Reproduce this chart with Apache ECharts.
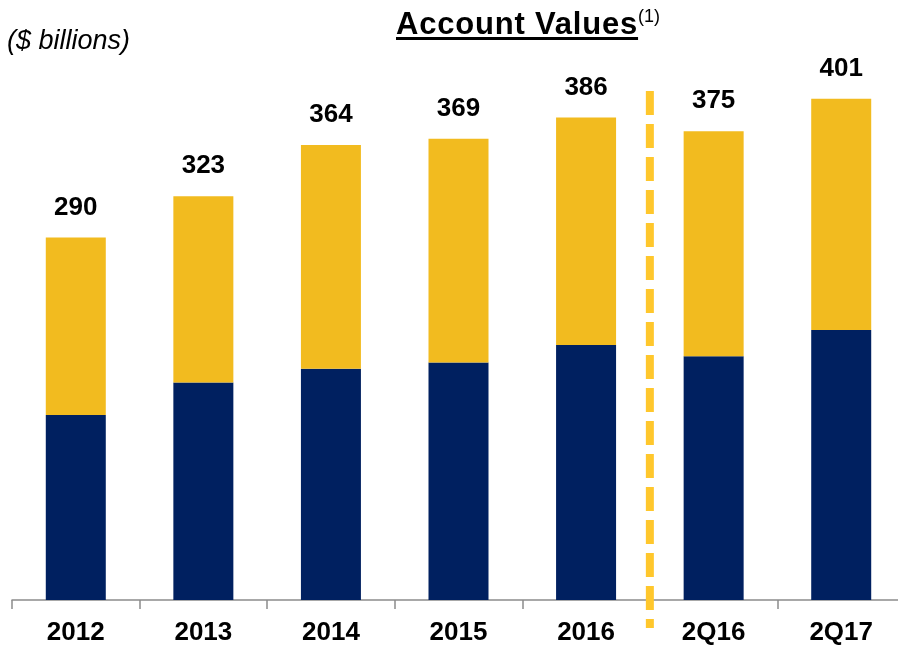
<!DOCTYPE html>
<html>
<head>
<meta charset="utf-8">
<script src="https://cdn.jsdelivr.net/npm/echarts@6/dist/echarts.min.js"></script>
<style>
  html, body { margin: 0; padding: 0; background: #fff; }
  #box { width: 898px; height: 647px; position: relative; }
  .ttl {
    position: absolute; left: 396px; top: 6px; z-index: 2;
    font-family: "Liberation Sans", Arial, sans-serif;
    font-weight: bold; font-size: 31px; letter-spacing: 0.8px; color: #000;
    text-decoration: underline; text-decoration-thickness: 3px; text-underline-offset: 3px;
  }
  .ttl sup { font-weight: normal; font-size: 18px; letter-spacing: 0; display: inline-block; vertical-align: 12px; margin-left: 0; }
</style>
</head>
<body>
<div id="box">
  <div class="ttl">Account Values<sup>(1)</sup></div>
  <div id="chart" style="width:898px;height:647px;"></div>
</div>
<script>
// data
var categories = ["2012", "2013", "2014", "2015", "2016", "2Q16", "2Q17"];
var navyValues = [148, 174, 185, 190, 204, 195, 216];
var yellowValues = [142, 149, 179, 179, 182, 180, 185];
var totals = [290, 323, 364, 369, 386, 375, 401];

var myChart = echarts.init(document.getElementById("chart"));
var font = '"Liberation Sans", Arial, sans-serif';

var option = {
  animation: false,
  title: {
    text: "($ billions)",
    left: 2,
    top: 23,
    textStyle: { fontFamily: font, fontStyle: "italic", fontWeight: "normal", fontSize: 27, color: "#000" }
  },
  grid: { left: 12, right: -7, top: 50, bottom: 47, outerBoundsMode: "none", containLabel: false },
  xAxis: {
    type: "category",
    data: categories,
    axisLine: { lineStyle: { color: "#8c8c8c", width: 1.5 } },
    axisTick: { show: true, length: 9, lineStyle: { color: "#8c8c8c", width: 1.5 } },
    axisLabel: { margin: 20, fontFamily: font, fontWeight: "bold", fontSize: 26, color: "#000" }
  },
  yAxis: {
    type: "value",
    min: 0,
    max: 440,
    show: false,
    splitLine: { show: false }
  },
  series: [
    {
      name: "navy",
      type: "bar",
      stack: "av",
      barWidth: 60,
      itemStyle: { color: "#002060" },
      data: navyValues
    },
    {
      name: "yellow",
      type: "bar",
      stack: "av",
      barWidth: 60,
      itemStyle: { color: "#F2BB1F" },
      label: {
        show: true,
        position: "top",
        distance: 17,
        fontFamily: font,
        fontWeight: "bold",
        fontSize: 26,
        color: "#000",
        formatter: function (p) { return totals[p.dataIndex]; }
      },
      data: yellowValues
    }
  ]
};
myChart.setOption(option);

// dashed divider between 2016 and 2Q16
var x1 = myChart.convertToPixel({ xAxisIndex: 0 }, 4);
var x2 = myChart.convertToPixel({ xAxisIndex: 0 }, 5);
var xm = (x1 + x2) / 2;
myChart.setOption({
  graphic: [{
    type: "line",
    shape: { x1: xm, y1: 91, x2: xm, y2: 628 },
    style: { stroke: "#FFC72C", lineWidth: 8, lineDash: [24, 9] },
    z: 10
  }]
});
</script>
</body>
</html>
